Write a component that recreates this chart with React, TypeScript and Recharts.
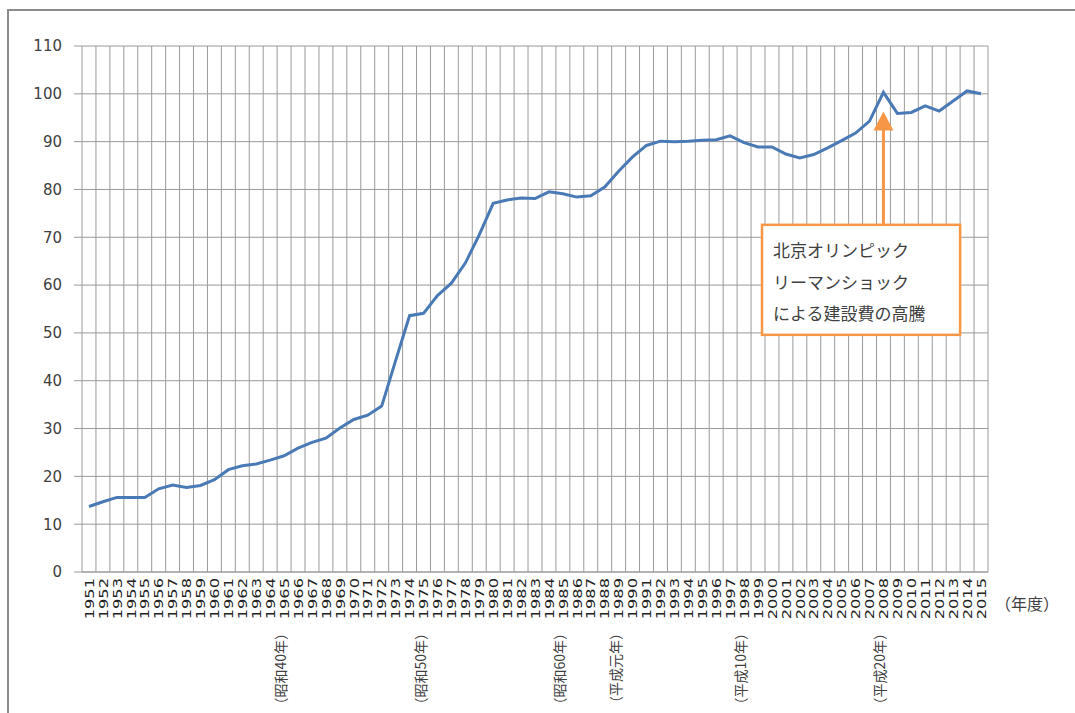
import React from "react";
import {
  LineChart,
  Line,
  XAxis,
  YAxis,
  CartesianGrid,
  ReferenceLine,
  ReferenceArea,
} from "recharts";

// 年度 (1951-2015)
const years = [
  "1951", "1952", "1953", "1954", "1955", "1956", "1957", "1958", "1959", "1960",
  "1961", "1962", "1963", "1964", "1965", "1966", "1967", "1968", "1969", "1970",
  "1971", "1972", "1973", "1974", "1975", "1976", "1977", "1978", "1979", "1980",
  "1981", "1982", "1983", "1984", "1985", "1986", "1987", "1988", "1989", "1990",
  "1991", "1992", "1993", "1994", "1995", "1996", "1997", "1998", "1999", "2000",
  "2001", "2002", "2003", "2004", "2005", "2006", "2007", "2008", "2009", "2010",
  "2011", "2012", "2013", "2014", "2015",
];

// 建設費指数
const costIndex = [
  13.7, 14.7, 15.6, 15.6, 15.6, 17.4, 18.2, 17.7, 18.1, 19.3,
  21.4, 22.2, 22.6, 23.4, 24.3, 25.9, 27.1, 28.0, 30.1, 31.9,
  32.8, 34.7, 44.2, 53.6, 54.1, 57.8, 60.4, 64.6, 70.5, 77.1,
  77.8, 78.2, 78.1, 79.5, 79.1, 78.4, 78.7, 80.5, 83.8, 86.8,
  89.2, 90.1, 90.0, 90.1, 90.3, 90.4, 91.2, 89.8, 88.9, 88.9,
  87.4, 86.6, 87.3, 88.7, 90.2, 91.8, 94.3, 100.3, 95.9, 96.1,
  97.5, 96.4, 98.5, 100.6, 100.0,
];

const yTicks = [0, 10, 20, 30, 40, 50, 60, 70, 80, 90, 100, 110];

// 和暦の区切り
const eraYears = ["1965", "1975", "1985", "1989", "1998", "2008"];
const eraLabels = [
  "（昭和40年）",
  "（昭和50年）",
  "（昭和60年）",
  "（平成元年）",
  "（平成10年）",
  "（平成20年）",
];

// 注記
const noteYear = "2008";
const noteLines = ["北京オリンピック", "リーマンショック", "による建設費の高騰"];
const noteBox = { from: "1999", to: "2013", top: 72.6, bottom: 49.6 };
const arrowRange = { base: 72.6, tip: 96.3 };

const data = years.map((year, i) => ({ year, value: costIndex[i] }));

const ORANGE = "#f79646";
const GRID = "#9a9a9a";
const TEXT = "#404040";

// gridlines sit between categories, like the spreadsheet original
const boundaryLines = (props: any) => {
  const offset = props && props.offset;
  if (!offset) return [];
  const n = years.length;
  return Array.from({ length: n + 1 }, (_, k) => offset.left + (k * offset.width) / n);
};

const YearTick = (props: any) => {
  const { x, y, payload } = props;
  const year = String(payload.value);
  const era = eraYears.indexOf(year);
  return (
    <g>
      <text
        transform={`translate(${x},${y}) rotate(-90) scale(1.25,1)`}
        textAnchor="end"
        dy="0.36em"
        fontSize={13}
        fontFamily="'DejaVu Sans', sans-serif"
        fill="#222"
      >
        {year}
      </text>
      {era >= 0 && (
        <text
          transform={`translate(${x - 3},${y + 48}) rotate(-90)`}
          textAnchor="end"
          dy="0.36em"
          fontSize={14}
          fontFamily="'Noto Sans CJK JP', sans-serif"
          fill={TEXT}
        >
          {eraLabels[era]}
        </text>
      )}
    </g>
  );
};

const ArrowShape = (props: any) => {
  const { x1, y1, x2, y2 } = props;
  const head = 19;
  return (
    <g>
      <line x1={x1} y1={y1} x2={x2} y2={y2 + head - 2} stroke={ORANGE} strokeWidth={3} />
      <polygon
        points={`${x2},${y2} ${x2 - 10},${y2 + head} ${x2 + 10},${y2 + head}`}
        fill={ORANGE}
      />
    </g>
  );
};

const NoteBox = (props: any) => {
  const { x, y, width, height } = props;
  const left = x + 4;
  return (
    <g>
      <rect
        x={left}
        y={y}
        width={width + 3}
        height={height}
        fill="#fff"
        stroke={ORANGE}
        strokeWidth={2.5}
      />
      {noteLines.map((line, i) => (
        <text
          key={line}
          x={left + 11}
          y={y + 25 + i * 31.5}
          dominantBaseline="central"
          fontSize={17}
          fontFamily="'Noto Sans CJK JP', sans-serif"
          fill={TEXT}
        >
          {line}
        </text>
      ))}
    </g>
  );
};

export default function App() {
  return (
    <div
      style={{
        position: "absolute",
        left: 0,
        top: 0,
        width: 1075,
        height: 713,
        overflow: "hidden",
        background: "#fff",
        fontFamily: "'Noto Sans CJK JP', sans-serif",
      }}
    >
      <div
        style={{
          position: "absolute",
          left: 7,
          top: 9,
          width: 1200,
          height: 800,
          border: "2px solid #8c8c8c",
        }}
      />
      <LineChart
        style={{ position: "absolute", left: 0, top: 0 }}
        width={1075}
        height={713}
        data={data}
        margin={{ top: 46, right: 87, bottom: 0, left: 0 }}
      >
        <CartesianGrid
          stroke={GRID}
          strokeWidth={1}
          verticalCoordinatesGenerator={boundaryLines}
        />
        <XAxis
          dataKey="year"
          interval={0}
          height={141}
          padding={{ left: 7, right: 7 }}
          axisLine={{ stroke: GRID }}
          tickLine={false}
          tickSize={0}
          tickMargin={6}
          tick={<YearTick />}
        />
        <YAxis
          width={82}
          domain={[0, 110]}
          ticks={yTicks}
          interval={0}
          axisLine={false}
          tickLine={{ stroke: GRID }}
          tickSize={8}
          tickMargin={12}
          tick={{ fontSize: 15, fill: TEXT, fontFamily: "'DejaVu Sans', sans-serif" }}
        />
        <ReferenceArea
          x1={noteBox.from}
          x2={noteBox.to}
          y1={noteBox.bottom}
          y2={noteBox.top}
          shape={(p: any) => <NoteBox {...p} />}
        />
        <ReferenceLine
          segment={[
            { x: noteYear, y: arrowRange.base },
            { x: noteYear, y: arrowRange.tip },
          ]}
          shape={(p: any) => <ArrowShape {...p} />}
        />
        <Line
          type="linear"
          dataKey="value"
          stroke="#4a7ab5"
          strokeWidth={3}
          dot={false}
          activeDot={false}
          isAnimationActive={false}
        />
      </LineChart>
      <div
        style={{
          position: "absolute",
          left: 995,
          top: 591,
          fontSize: 16,
          lineHeight: "24px",
          color: TEXT,
          whiteSpace: "nowrap",
        }}
      >
        （年度）
      </div>
    </div>
  );
}
